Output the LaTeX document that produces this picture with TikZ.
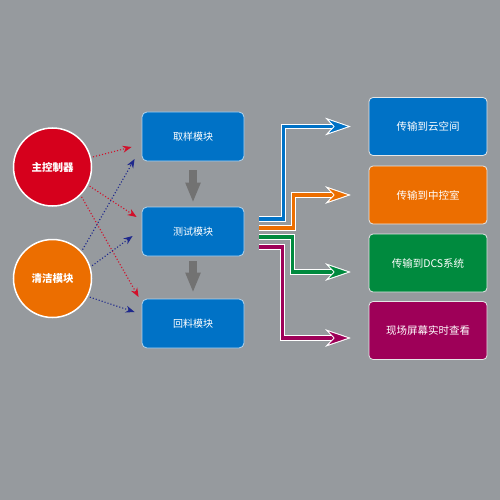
\documentclass[tikz,border=0pt]{standalone}
\usepackage{fontspec}
\setmainfont{Noto Sans CJK SC}
\usepackage{xcolor}
\usepackage{tikz}
\usetikzlibrary{arrows.meta, calc}
\definecolor{bggray}{RGB}{150,154,158}
\definecolor{boxblue}{RGB}{0,114,198}
\definecolor{ctrlred}{RGB}{214,0,28}
\definecolor{cleanorange}{RGB}{236,110,0}
\definecolor{dcsgreen}{RGB}{0,138,62}
\definecolor{screenpurple}{RGB}{158,0,88}
\definecolor{navy}{RGB}{30,40,140}
\definecolor{dotred}{RGB}{210,16,42}
\definecolor{arrowgray}{RGB}{114,114,114}

\begin{document}
\begin{tikzpicture}[x=1pt, y=-1pt,
  unit/.style={circle, draw=white, line width=1.5pt, minimum size=78pt,
               text=white, font=\fontsize{10.5}{12}\selectfont\bfseries},
  module/.style={draw=white!70!boxblue, line width=0.8pt, fill=boxblue,
                 rounded corners=5pt, minimum width=102pt, minimum height=49pt,
                 text=white, font=\fontsize{10}{12}\selectfont},
  target/.style={draw=white!75!bggray, line width=0.8pt, rounded corners=4pt,
                 minimum width=118pt, minimum height=58pt,
                 text=white, font=\fontsize{10.5}{12}\selectfont},
  signal/.style={dotted, line width=1.1pt, shorten <=2pt,
                 -{Stealth[length=9pt, width=7pt]}},
  flow/.style={draw=arrowgray, line width=8pt,
               -{Triangle[length=20pt, width=14pt]}},
  feed/.style={draw=#1, line width=3.8pt,
               -{Stealth[length=25pt, width=17pt, inset=8pt,
                         color=white, fill=#1, line width=0.8pt]},
               preaction={draw=white, line width=5.8pt,
                          -{Stealth[length=25pt, width=17pt, inset=8pt]}}}
]
  \fill[bggray] (0,0) rectangle (500,500);
  \useasboundingbox (0,0) rectangle (500,500);

  \node[unit, fill=ctrlred] (ctrl) at (52.5,167) {主控制器};
  \node[unit, fill=cleanorange] (clean) at (52.5,278.5) {清洁模块};

  \node[module] (sample) at (193,136.5) {取样模块};
  \node[module] (test) at (193,231.5) {测试模块};
  \node[module] (reclaim) at (193,323.5) {回料模块};

  \node[target, fill=boxblue] (cloud) at (428,126.5) {传输到云空间};
  \node[target, fill=cleanorange] (room) at (428,195) {传输到中控室};
  \node[target, fill=dcsgreen] (dcs) at (428,263) {传输到DCS系统};
  \node[target, fill=screenpurple] (screen) at (428,330.5) {现场屏幕实时查看};

  \draw[signal, dotred] (ctrl.14) -- ([xshift=-10pt, yshift=-10.5pt]sample.west);
  \draw[signal, dotred] (ctrl.-27) -- ([xshift=-5pt, yshift=14.5pt]test.west);
  \draw[signal, dotred] (ctrl.-45) -- ([xshift=-3pt, yshift=26.5pt]reclaim.west);
  \draw[signal, navy] (clean.43) -- ([xshift=-7pt, yshift=-22.5pt]sample.west);
  \draw[signal, navy] (clean.17) -- ([xshift=-9pt, yshift=-4.5pt]test.west);
  \draw[signal, navy] (clean.-27) -- ([xshift=-7pt, yshift=11.5pt]reclaim.west);

  \draw[flow, shorten <=9pt, shorten >=4pt] (sample.south) -- (test.north);
  \draw[flow, shorten <=5pt, shorten >=6pt] (test.south) -- (reclaim.north);

  \draw[feed=boxblue] ([xshift=15pt, yshift=12.5pt]test.east) -- ++(24,0)
    |- ([xshift=-18pt]cloud.west);
  \draw[feed=cleanorange] ([xshift=15pt, yshift=3.5pt]test.east) -- ++(34,0)
    |- ([xshift=-18pt]room.west);
  \draw[feed=dcsgreen] ([xshift=15pt, yshift=-5.5pt]test.east) -- ++(33,0)
    |- ([xshift=-18pt, yshift=-9pt]dcs.west);
  \draw[feed=screenpurple] ([xshift=15pt, yshift=-15.5pt]test.east) -- ++(23,0)
    |- ([xshift=-18pt, yshift=-7.5pt]screen.west);
\end{tikzpicture}
\end{document}
